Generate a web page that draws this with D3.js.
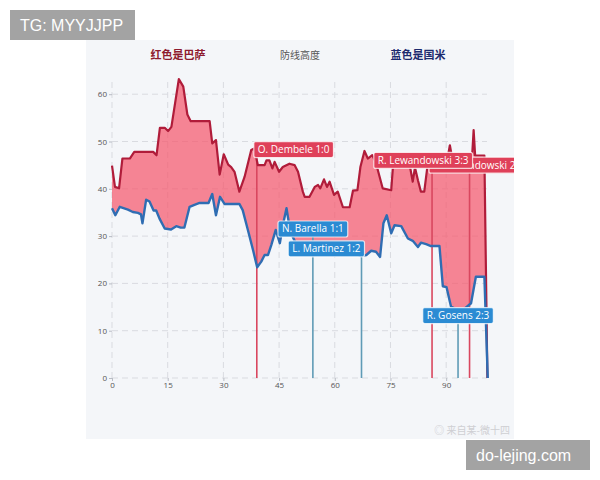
<!DOCTYPE html>
<html>
<head>
<meta charset="utf-8">
<script src="https://cdn.jsdelivr.net/npm/d3@7/dist/d3.min.js"></script>
<style>
  html, body { margin: 0; padding: 0; background: #ffffff; }
  svg { display: block; font-family: "Open Sans", "Noto Sans", sans-serif; }
</style>
</head>
<body>
<svg id="chart" width="600" height="480"></svg>
<script>
// ---------------- data ----------------
const xTicks = [0, 15, 30, 45, 60, 75, 90];
const yTicks = [0, 10, 20, 30, 40, 50, 60];

const barcaMinutes = [0, 0.8, 1.9, 2.8, 4.8, 6, 11.1, 12, 12.9, 14.2, 15.1, 16, 18, 19.2, 20.3, 21.2, 26.3, 27, 28, 29, 30.1, 31.3, 32.1, 33, 34.3, 35.7, 37.5, 38.3, 39.3, 41.1, 41.6, 42.4, 43.2, 43.8, 45, 46, 47.8, 49.2, 50.1, 51.4, 51.9, 53.2, 54.6, 55.5, 56.1, 57.1, 57.9, 58.6, 59.8, 60.8, 62.2, 64, 64.9, 66.1, 66.9, 68, 68.9, 70.1, 71, 72.9, 75.2, 75.7, 76.5, 79.5, 80.3, 81, 81.6, 82.4, 83.2, 84.1, 85, 86, 90.5, 91, 91.5, 97, 97.4, 97.8, 100.3, 101.1];
const barcaLine    = [44.9, 40.4, 40.1, 46.4, 46.4, 47.8, 47.8, 47.1, 52.9, 52.9, 52.2, 53.1, 63.2, 61.6, 55.7, 54.3, 54.3, 49.6, 50.3, 43, 47.3, 45.1, 44.6, 43.6, 39.4, 42.5, 48.2, 48.5, 45, 45, 46, 46, 44.3, 45.7, 43.6, 44.6, 45.3, 45, 43.6, 39.4, 38.3, 38.3, 40.4, 40.8, 40.1, 42, 40.4, 41.5, 38.7, 39.4, 36.1, 36.1, 39.6, 39.7, 44.6, 48, 46.4, 47.1, 45.7, 40.1, 39.7, 45, 47, 47, 44.5, 41.5, 44.5, 41.8, 39.4, 39.4, 45, 47, 47, 49.2, 47, 47, 52.4, 47, 47, 0];

const interMinutes = [0, 0.9, 2.1, 4.3, 5.6, 7, 7.8, 8.2, 9.2, 10.1, 11.2, 11.9, 12.8, 14.2, 15.9, 17.3, 18.5, 19.5, 20.9, 22.2, 23.6, 26, 27, 28, 29.1, 30.3, 34.3, 35.2, 36.6, 38, 39.1, 40.2, 41.1, 42, 42.9, 44.1, 45.2, 46.2, 47, 48, 49.5, 51, 53, 56, 59, 62, 65, 67, 68.5, 69.8, 71.1, 72.2, 73.1, 74, 75.2, 76.1, 77.9, 79.7, 81, 82.4, 83.2, 84.6, 85.9, 88.2, 89.1, 90.1, 91.3, 94, 96.7, 98, 100.3, 101.2];
const interLine    = [35.9, 34.4, 36.2, 35.6, 35.1, 34.9, 34.6, 32.7, 37.7, 37.3, 35.4, 35.4, 33.7, 31.6, 31.4, 32.1, 31.8, 31.8, 36.2, 36.6, 37, 37, 38.9, 34.4, 38.3, 36.8, 36.8, 35.5, 31.3, 27, 23.4, 24.6, 26, 26, 28.1, 31.3, 28.5, 33, 35.9, 31, 28.5, 27.5, 28, 27.5, 28, 27, 26.5, 25.8, 26, 26.9, 26.7, 25.6, 32.7, 34.4, 30.6, 32.3, 32.1, 29.5, 29, 27.7, 28.6, 28.3, 27.9, 27.9, 19.4, 19.2, 15.1, 14, 15.8, 21.4, 21.4, 0];

const goalMinutes = [39, 54.1, 67.2, 86.2, 93.2, 96.3];
const goalLabels  = ["O. Dembele 1:0", "N. Barella 1:1", "L. Martinez 1:2", "R. Lewandowski 2:2", "R. Gosens 2:3", "R. Lewandowski 3:3"];
const goalTeams   = ["barca", "inter", "inter", "barca", "inter", "barca"];
const goalLabelAt = [48.3, 31.5, 27.3, 45.0, 13.2, 46.0];
const goalAnchor  = ["start", "middle", "end", "start", "middle", "end"];

const titleLeft = "红色是巴萨";
const titleMid = "防线高度";
const titleRight = "蓝色是国米";

// ---------------- drawing ----------------
const svg = d3.select("#chart");
const panel = { x: 86, y: 40, w: 428, h: 399 };

svg.append("rect")
  .attr("x", panel.x).attr("y", panel.y).attr("width", panel.w).attr("height", panel.h)
  .attr("fill", "#f4f6f9");

const defs = svg.append("defs");
defs.append("clipPath").attr("id", "panelClip")
  .append("rect").attr("x", panel.x).attr("y", panel.y).attr("width", panel.w).attr("height", panel.h);

const g = svg.append("g").attr("clip-path", "url(#panelClip)");

const x = d3.scaleLinear().domain([0, 101]).range([112, 487]);
const y = d3.scaleLinear().domain([0, 63]).range([378, 80]);

// grid
g.append("g").selectAll("line").data(yTicks).join("line")
  .attr("x1", x(0)).attr("x2", x(101))
  .attr("y1", d => y(d)).attr("y2", d => y(d))
  .attr("stroke", "#d9dbe0").attr("stroke-width", 1).attr("stroke-dasharray", "6,4");
g.append("g").selectAll("line").data(xTicks).join("line")
  .attr("x1", d => x(d)).attr("x2", d => x(d))
  .attr("y1", y(0)).attr("y2", y(63))
  .attr("stroke", "#d9dbe0").attr("stroke-width", 1).attr("stroke-dasharray", "6,4");

// axes
const yAxis = g.append("g").attr("transform", `translate(${x(0)},0)`)
  .call(d3.axisLeft(y).tickValues(yTicks).tickSize(3).tickPadding(2));
const xAxis = g.append("g").attr("transform", `translate(0,${y(0)})`)
  .call(d3.axisBottom(x).tickValues(xTicks).tickSize(3).tickPadding(1));
[yAxis, xAxis].forEach(a => {
  a.select(".domain").remove();
  a.selectAll(".tick line").attr("stroke", "#b8bcc4");
  a.selectAll(".tick text").attr("fill", "#555").style("font-size", "8px")
    .style("font-family", "'Open Sans', sans-serif");
});

// series points
const barcaPts = barcaMinutes.map((m, i) => [m, barcaLine[i]]);
const interPts = interMinutes.map((m, i) => [m, interLine[i]]);

const lineGen = d3.line().x(d => x(d[0])).y(d => y(d[1]));

// band between the two lines
const bandPts = barcaPts.concat(interPts.slice().reverse());
g.append("path")
  .attr("d", lineGen(bandPts) + "Z")
  .attr("fill", "#f5576c").attr("fill-opacity", 0.72);

// goal event lines
const colors = {
  barca: { line: "#d9475f", box: "#df4059" },
  inter: { line: "#5f9bb6", box: "#2b8bd3" }
};
g.append("g").selectAll("line").data(goalMinutes).join("line")
  .attr("x1", d => x(d)).attr("x2", d => x(d))
  .attr("y1", y(0)).attr("y2", (d, i) => y(goalLabelAt[i]))
  .attr("stroke", (d, i) => colors[goalTeams[i]].line)
  .attr("stroke-width", 1.6);

// series lines
g.append("path").attr("d", lineGen(barcaPts))
  .attr("fill", "none").attr("stroke", "#b01c3a").attr("stroke-width", 2.2)
  .attr("stroke-linejoin", "round");
g.append("path").attr("d", lineGen(interPts))
  .attr("fill", "none").attr("stroke", "#2f6db3").attr("stroke-width", 2.4)
  .attr("stroke-linejoin", "round");

// labels
const boxes = [];
goalMinutes.forEach((m, i) => {
  const lg = g.append("g");
  const rect = lg.append("rect");
  const txt = lg.append("text")
    .text(goalLabels[i])
    .attr("fill", "#ffffff")
    .style("font-size", "10px")
    .style("font-family", "'Open Sans', sans-serif");
  const tw = txt.node().getComputedTextLength();
  const pad = 4, h = 16;
  const bw = tw + pad * 2;
  const lx = x(m);
  let x0;
  if (goalAnchor[i] === "start") x0 = lx - 3;
  else if (goalAnchor[i] === "end") x0 = lx + 3 - bw;
  else x0 = lx - bw / 2;
  const cy = y(goalLabelAt[i]);
  rect.attr("x", x0).attr("y", cy - h / 2).attr("width", bw).attr("height", h)
    .attr("rx", 2).attr("ry", 2)
    .attr("fill", colors[goalTeams[i]].box)
    .attr("stroke", "#ffffff").attr("stroke-opacity", 0.75).attr("stroke-width", 1.2);
  txt.attr("x", x0 + pad).attr("y", cy + 3.4);
  boxes.push({ lg, txt, x0, y0: cy - h / 2, w: bw, h });
});

// the 2:2 label sits behind the 3:3 label: hide the part of its text that is covered
{
  const back = boxes[3], front = boxes[5];
  const cp = defs.append("clipPath").attr("id", "behindClip");
  cp.append("rect")
    .attr("x", front.x0 + front.w).attr("y", back.y0)
    .attr("width", 200).attr("height", back.h);
  back.txt.attr("clip-path", "url(#behindClip)");
}

// titles
svg.append("text").text(titleLeft).attr("x", 178).attr("y", 59).attr("text-anchor", "middle")
  .attr("fill", "#8e1b2f").style("font-size", "11px").style("font-weight", "bold")
  .style("font-family", "'Noto Sans CJK SC', sans-serif");
svg.append("text").text(titleMid).attr("x", 300).attr("y", 59).attr("text-anchor", "middle")
  .attr("fill", "#555").style("font-size", "10px")
  .style("font-family", "'Noto Sans CJK SC', sans-serif");
svg.append("text").text(titleRight).attr("x", 418).attr("y", 59).attr("text-anchor", "middle")
  .attr("fill", "#1c2a6e").style("font-size", "11px").style("font-weight", "bold")
  .style("font-family", "'Noto Sans CJK SC', sans-serif");

// weibo watermark
svg.append("text").text("◎ 来自某-微十四").attr("x", 510).attr("y", 434).attr("text-anchor", "end")
  .attr("fill", "#cfcfd3").style("font-size", "10px")
  .style("font-family", "'Noto Sans CJK SC', sans-serif");

// corner tags
svg.append("rect").attr("x", 10).attr("y", 10).attr("width", 125).attr("height", 30).attr("fill", "#a3a3a3");
svg.append("text").text("TG: MYYJJPP").attr("x", 20).attr("y", 31)
  .attr("fill", "#ffffff").style("font-size", "16px").style("font-family", "'Liberation Sans', Arial, sans-serif");
svg.append("rect").attr("x", 466).attr("y", 440).attr("width", 124).attr("height", 30).attr("fill", "#a3a3a3");
svg.append("text").text("do-lejing.com").attr("x", 476).attr("y", 461)
  .attr("fill", "#ffffff").style("font-size", "16px").style("font-family", "'Liberation Sans', Arial, sans-serif");
</script>
</body>
</html>
